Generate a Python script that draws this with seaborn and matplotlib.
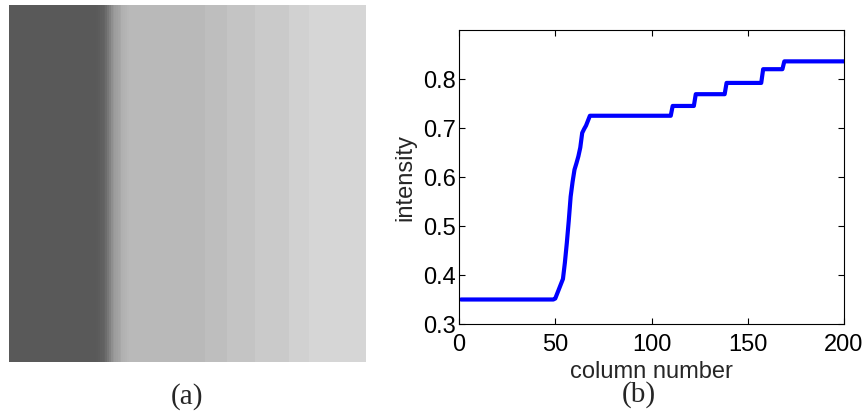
import numpy as np
import pandas as pd
import matplotlib
matplotlib.use("Agg")
import matplotlib.pyplot as plt
import seaborn as sns

# ---- data ----
ramp = [0.352, 0.362, 0.372, 0.382, 0.392, 0.425, 0.465, 0.510, 0.560, 0.590,
        0.615, 0.628, 0.642, 0.660, 0.690, 0.698, 0.705, 0.715, 0.725]
profile = ([0.350] * 49 + ramp + [0.725] * 42 + [0.745] * 12 + [0.769] * 16 +
           [0.792] * 19 + [0.820] * 11 + [0.836] * 32)
columns = list(range(1, len(profile) + 1))
n_rows = 200
x_ticks = [0, 50, 100, 150, 200]
y_ticks = [0.3, 0.4, 0.5, 0.6, 0.7, 0.8]
y_tick_labels = ["0.3", "0.4", "0.5", "0.6", "0.7", "0.8"]

sns.set_style("white")
plt.rcParams['font.family'] = ['Liberation Sans', 'DejaVu Sans']

fig = plt.figure(figsize=(8.66, 4.11), dpi=100)

# (a) grayscale image
ax_img = fig.add_axes([9 / 866, 1 - 362 / 411, 357 / 866, 357 / 411])
img = np.tile(np.array(profile), (n_rows, 1))
sns.heatmap(img, ax=ax_img, cmap="gray", vmin=0, vmax=1, cbar=False,
            xticklabels=False, yticklabels=False, linewidths=0, rasterized=True)
for s in ax_img.spines.values():
    s.set_visible(False)

# (b) intensity profile
ax = fig.add_axes([459 / 866, 1 - 324 / 411, 385 / 866, 294 / 411])
df = pd.DataFrame({"column": columns, "intensity": profile})
sns.lineplot(data=df, x="column", y="intensity", ax=ax, color="#0000ff", linewidth=3)
ax.set_xlim(0, 200)
ax.set_ylim(0.3, 0.9)
ax.set_xticks(x_ticks)
ax.set_xticklabels([str(v) for v in x_ticks])
ax.set_yticks(y_ticks)
ax.set_yticklabels(y_tick_labels)
ax.tick_params(direction="in", length=4, width=0.8, top=True, right=True,
               bottom=True, left=True, labelsize=17, colors="black")
ax.tick_params(axis="x", pad=7)
ax.tick_params(axis="y", pad=2)
ax.set_xlabel("column number", fontsize=17, labelpad=4)
ax.set_ylabel("intensity", fontsize=17, labelpad=5)
for s in ax.spines.values():
    s.set_visible(True)
    s.set_color("black")
    s.set_linewidth(0.8)

fig.text(187 / 866, 1 - 397 / 411, "(a)", ha="center", va="center",
         fontsize=21, family=["Liberation Serif", "DejaVu Serif"])
fig.text(639 / 866, 1 - 395 / 411, "(b)", ha="center", va="center",
         fontsize=21, family=["Liberation Serif", "DejaVu Serif"])

fig.savefig("out.png", dpi=100)
